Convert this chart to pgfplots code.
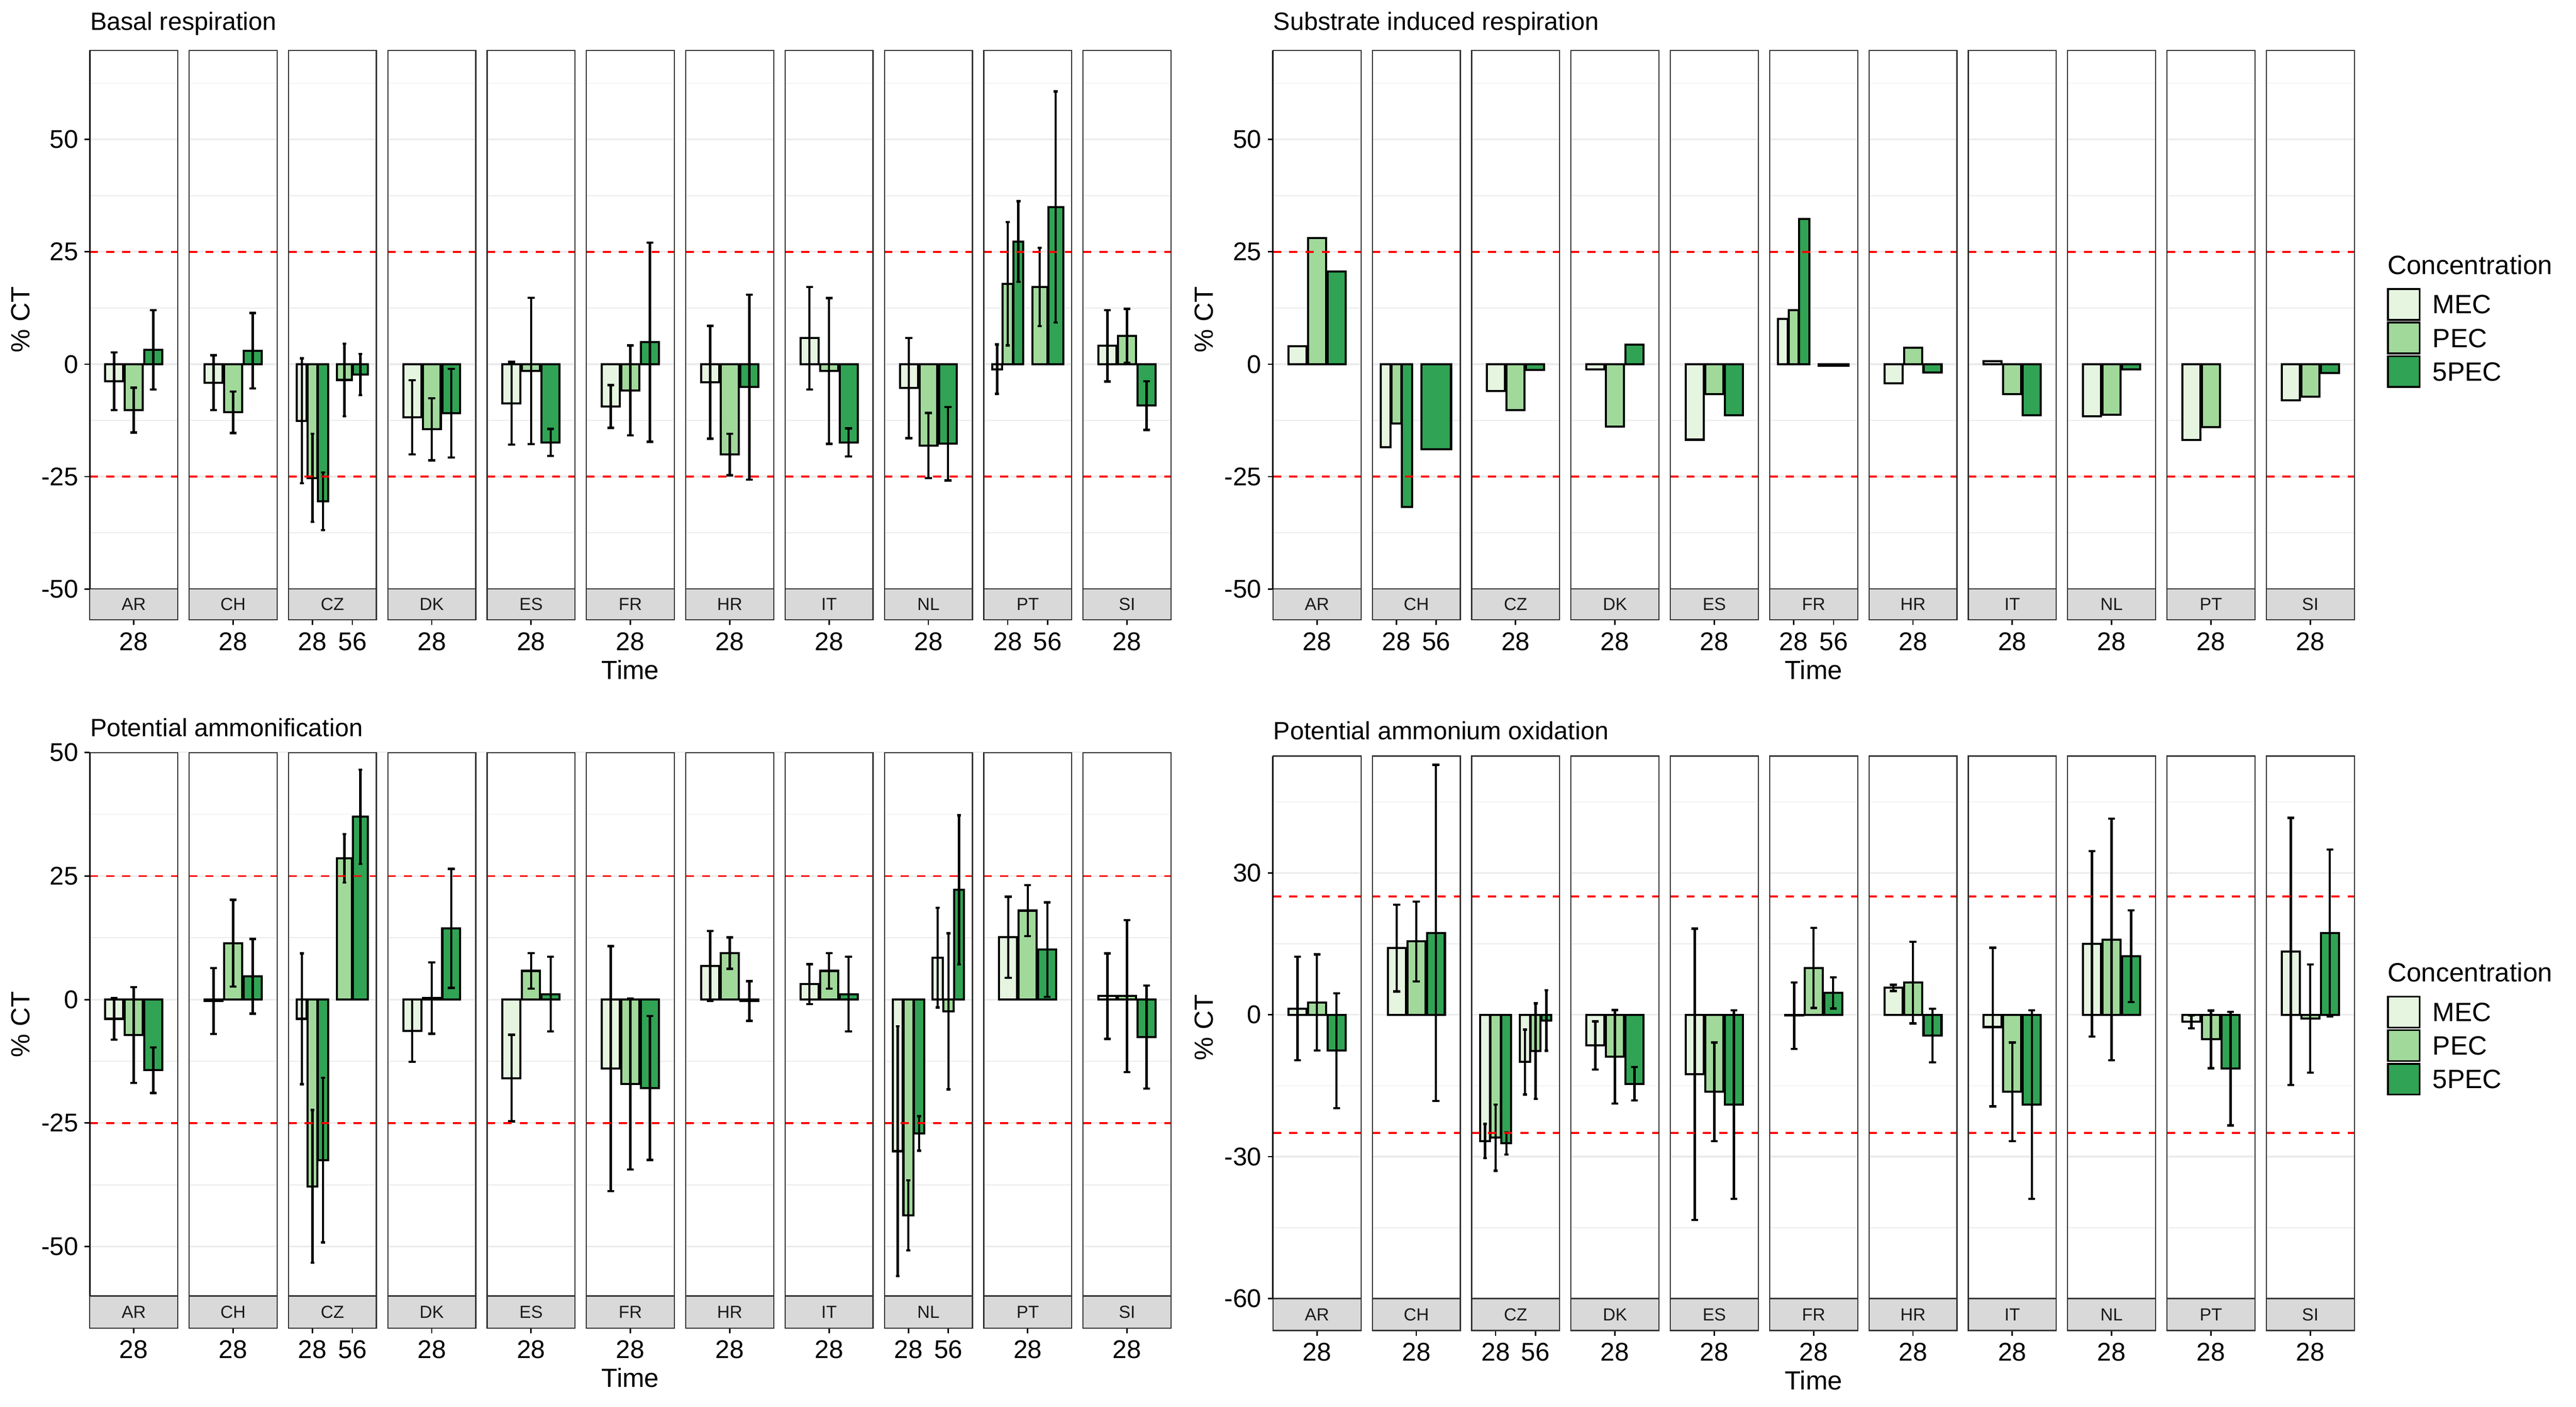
\documentclass[border=0pt]{standalone}
\usepackage{pgfplots}
\pgfplotsset{compat=1.18}
\usepackage{fontspec}
\setmainfont{Liberation Sans}
\definecolor{mecc}{HTML}{E5F5E0}
\definecolor{pecc}{HTML}{A1D99B}
\definecolor{fivec}{HTML}{31A354}
\definecolor{brd}{HTML}{333333}
\definecolor{stripc}{HTML}{D9D9D9}
\definecolor{gridc}{HTML}{EBEBEB}
\definecolor{stxt}{HTML}{1A1A1A}
\newcommand{\tickfont}{\fontsize{12.3bp}{14bp}\selectfont}
\newcommand{\labfont}{\fontsize{12.6bp}{15bp}\selectfont}
\newcommand{\legfont}{\fontsize{12.7bp}{15bp}\selectfont}
\newcommand{\facet}[4]{%
  \draw[red, line width=0.85bp, dash pattern=on 3.9bp off 3.9bp] (axis cs:#1,25) -- (axis cs:#3,25);
  \draw[red, line width=0.85bp, dash pattern=on 3.9bp off 3.9bp] (axis cs:#1,-25) -- (axis cs:#3,-25);
  \draw[brd, line width=0.55bp] (axis cs:#1,\ymn) rectangle (axis cs:#3,\ymx);
  \draw[brd, line width=0.55bp, fill=stripc] (axis cs:#1,\ybt) rectangle (axis cs:#3,\ymn);
  \node[font=\fontsize{8.4bp}{10bp}\selectfont, text=stxt, inner sep=0pt] at (axis cs:#2,\ysc) {#4};
}
\newcommand{\gap}[2]{\fill[white] (axis cs:#1,\ybt) rectangle (axis cs:#2,\ymx);}
\newcommand{\allfacets}{%
  \gap{175.8}{198.5}\gap{374.3}{397}\gap{572.8}{595.5}\gap{771.3}{794}\gap{969.8}{992.5}%
  \gap{1168.3}{1191}\gap{1366.8}{1389.5}\gap{1565.3}{1588}\gap{1763.8}{1786.5}\gap{1962.3}{1985}%
  \facet{0}{87.9}{175.8}{AR}
  \facet{198.5}{286.4}{374.3}{CH}
  \facet{397}{484.9}{572.8}{CZ}
  \facet{595.5}{683.4}{771.3}{DK}
  \facet{794}{881.9}{969.8}{ES}
  \facet{992.5}{1080.4}{1168.3}{FR}
  \facet{1191}{1278.9}{1366.8}{HR}
  \facet{1389.5}{1477.4}{1565.3}{IT}
  \facet{1588}{1675.9}{1763.8}{NL}
  \facet{1786.5}{1874.4}{1962.3}{PT}
  \facet{1985}{2072.9}{2160.8}{SI}
  \draw[black, line width=0.75bp] (axis cs:0,\ymn) -- (axis cs:0,\ymx);
}
\pgfplotsset{
  panel/.style={
    scale only axis, width=518.6bp, xmin=0, xmax=2160.8,
    axis line style={draw=none},
    tick align=outside, major tick length=2.5bp, minor tick length=0pt,
    xtick pos=left, ytick pos=left,
    every tick/.style={black, line width=0.7bp},
    ymajorgrids, yminorgrids,
    major grid style={gridc, line width=0.8bp},
    minor grid style={gridc, line width=0.4bp},
    clip=false,
    xticklabel style={font=\tickfont, inner sep=0pt, yshift=-3.3bp},
    yticklabel style={font=\tickfont, inner sep=0pt, xshift=-2.8bp},
    every axis title/.style={at={(axis description cs:0,1)}, anchor=base west, inner sep=0pt, font=\fontsize{12bp}{14bp}\selectfont},
    every axis x label/.style={at={(axis description cs:0.5,0)}, anchor=center, yshift=-24bp, inner sep=0pt, font=\labfont},
    every axis y label/.style={at={(axis description cs:-0.0638,0.5275)}, anchor=center, rotate=90, inner sep=0pt, font=\labfont},
    xlabel={Time}, ylabel={\% CT},
  },
  leg/.style={
    legend style={at={(axis description cs:1.0304,0.5826)}, anchor=north west, draw=none, fill=none,
      inner sep=0pt, outer sep=0pt, row sep=0.43bp, font=\legfont,
      nodes={inner sep=0pt, text depth=0pt},
      /tikz/every odd column/.append style={column sep=5.9bp}},
    legend cell align=left,
    legend image code/.code={\draw[##1] (0bp,-7.4bp) rectangle (15.1bp,7.4bp);},
  },
  bb/.style={ybar, bar shift=0pt, draw=black, line width=1.0bp, forget plot},
  b1/.style={bb, bar width=36},
  b3/.style={bb, bar width=20},
  b2/.style={bb, bar width=30},
  b0/.style={bb, bar width=59},
  mecS/.style={fill=mecc}, pecS/.style={fill=pecc}, fivS/.style={fill=fivec},
  eb/.style={error bars/y dir=both, error bars/y explicit,
    error bars/error bar style={line width=1.1bp, black, solid},
    error bars/error mark options={rotate=90, mark size=#1, line width=1.1bp, black, solid}},
}
\begin{document}
\begin{tikzpicture}
\useasboundingbox (0,0) rectangle (1235.52bp,674.64bp);

% ---------------- Basal respiration ----------------
\def\ymn{-50}\def\ymx{69.8}\def\ybt{-56.9}\def\ysc{-53.45}
\begin{axis}[panel, at={(43.06bp,377.28bp)}, anchor=south west, height=273.14bp,
  ymin=-56.9, ymax=69.8,
  ytick={-50,-25,0,25,50}, yticklabels={-50,-25,0,25,50},
  minor ytick={-37.5,-12.5,12.5,37.5,62.5},
  xtick={87.9,286.4,444.95,524.85,683.4,881.9,1080.4,1278.9,1477.4,1675.9,1834.45,1914.35,2072.9},
  xticklabels={28,28,28,56,28,28,28,28,28,28,28,56,28},
  title={Basal respiration}, title style={yshift=9.84bp}]
\addplot[b1, mecS, eb=1.65bp] table[x=x, y=y, y error=e] {
x y e
48.83 -3.8 6.4
247.33 -4.1 6.1
644.33 -11.8 8.25
842.83 -8.7 9.2
1041.33 -9.4 4.75
1239.83 -4.0 12.55
1438.33 5.8 11.4
1636.83 -5.3 11.15
2033.83 4.1 7.95
};
\addplot[b1, pecS, eb=1.65bp] table[x=x, y=y, y error=e] {
x y e
87.9 -10.2 5.0
286.4 -10.7 4.6
683.4 -14.5 6.9
881.9 -1.5 16.25
1080.4 -5.8 10.0
1278.9 -20.1 4.6
1477.4 -1.5 16.2
1675.9 -18.1 7.25
2072.9 6.3 6.0
};
\addplot[b1, fivS, eb=1.65bp] table[x=x, y=y, y error=e] {
x y e
126.97 3.2 8.8
325.47 3.0 8.4
722.47 -10.9 9.85
920.97 -17.4 3.0
1119.47 4.9 22.15
1317.97 -5.1 20.6
1516.47 -17.4 3.1
1714.97 -17.7 8.15
2111.97 -9.2 5.4
};
\addplot[b3, mecS, eb=0.95bp] table[x=x, y=y, y error=e] {
x y e
423.65 -12.6 13.9
1813.15 -1.1 5.5
};
\addplot[b3, pecS, eb=0.95bp] table[x=x, y=y, y error=e] {
x y e
444.95 -25.3 9.8
1834.45 17.9 13.7
};
\addplot[b3, fivS, eb=0.95bp] table[x=x, y=y, y error=e] {
x y e
466.25 -30.5 6.4
1855.75 27.3 8.95
};
\addplot[b2, pecS, eb=0.95bp] table[x=x, y=y, y error=e] {
x y e
508.87 -3.5 8.1
1898.37 17.2 8.7
};
\addplot[b2, fivS, eb=0.95bp] table[x=x, y=y, y error=e] {
x y e
540.83 -2.3 4.6
1930.33 35.0 25.7
};
\allfacets
\end{axis}

% ---------------- Substrate induced respiration ----------------
\def\ymn{-50}\def\ymx{69.8}\def\ybt{-56.9}\def\ysc{-53.45}
\begin{axis}[panel, leg, at={(610.56bp,377.28bp)}, anchor=south west, height=273.14bp,
  ymin=-56.9, ymax=69.8,
  ytick={-50,-25,0,25,50}, yticklabels={-50,-25,0,25,50},
  minor ytick={-37.5,-12.5,12.5,37.5,62.5},
  xtick={87.9,246.45,326.35,484.9,683.4,881.9,1040.45,1120.35,1278.9,1477.4,1675.9,1874.4,2072.9},
  xticklabels={28,28,56,28,28,28,28,56,28,28,28,28,28},
  title={Substrate induced respiration}, title style={yshift=9.84bp}]
\addplot[b1, mecS] table[x=x, y=y] {
x y
48.83 4.0
445.83 -6.0
644.33 -1.2
842.83 -16.8
1239.83 -4.3
1438.33 0.7
1636.83 -11.6
1835.33 -16.9
2033.83 -8.0
};
\addplot[b1, pecS] table[x=x, y=y] {
x y
87.9 28.1
484.9 -10.2
683.4 -13.9
881.9 -6.6
1278.9 3.7
1477.4 -6.6
1675.9 -11.2
1874.4 -14.0
2072.9 -7.2
};
\addplot[b1, fivS] table[x=x, y=y] {
x y
126.97 20.6
523.97 -1.3
722.47 4.4
920.97 -11.4
1317.97 -1.8
1516.47 -11.4
1714.97 -1.1
2111.97 -1.9
};
\addplot[b3, mecS] table[x=x, y=y] {
x y
225.15 -18.5
1019.15 10.1
};
\addplot[b3, pecS] table[x=x, y=y] {
x y
246.45 -13.2
1040.45 12.0
};
\addplot[b3, fivS] table[x=x, y=y] {
x y
267.75 -31.8
1061.75 32.3
};
\addplot[b0, fivS] table[x=x, y=y] {
x y
326.35 -18.9
1120.35 -0.3
};
\allfacets
\addlegendimage{fill=mecc, draw=black, line width=0.85bp}\addlegendentry{MEC}
\addlegendimage{fill=pecc, draw=black, line width=0.85bp}\addlegendentry{PEC}
\addlegendimage{fill=fivec, draw=black, line width=0.85bp}\addlegendentry{5PEC}
\node[anchor=base west, inner sep=0pt, font=\legfont] at (axis description cs:1.0304,0.6072) {Concentration};
\end{axis}

% ---------------- Potential ammonification ----------------
\def\ymn{-60}\def\ymx{50}\def\ybt{-66.48}\def\ysc{-63.24}
\begin{axis}[panel, at={(43.06bp,37.70bp)}, anchor=south west, height=276bp,
  ymin=-66.48, ymax=50,
  ytick={-50,-25,0,25,50}, yticklabels={-50,-25,0,25,50},
  minor ytick={-37.5,-12.5,12.5,37.5},
  xtick={87.9,286.4,444.95,524.85,683.4,881.9,1080.4,1278.9,1477.4,1635.95,1715.85,1874.4,2072.9},
  xticklabels={28,28,28,56,28,28,28,28,28,28,56,28,28},
  title={Potential ammonification}, title style={yshift=7.7bp}]
\addplot[b1, mecS, eb=1.65bp] table[x=x, y=y, y error=e] {
x y e
48.83 -3.9 4.2
247.33 -0.3 6.7
644.33 -6.3 6.3
842.83 -15.9 8.75
1041.33 -14.0 24.8
1239.83 6.8 7.1
1438.33 3.1 4.05
1835.33 12.6 8.2
2033.83 0.7 8.65
};
\addplot[b1, pecS, eb=1.65bp] table[x=x, y=y, y error=e] {
x y e
87.9 -7.2 9.7
286.4 11.4 8.8
683.4 0.3 7.2
881.9 5.8 3.6
1080.4 -17.1 17.3
1278.9 9.4 3.2
1477.4 5.8 3.6
1874.4 18.0 5.15
2072.9 0.7 15.4
};
\addplot[b1, fivS, eb=1.65bp] table[x=x, y=y, y error=e] {
x y e
126.97 -14.3 4.6
325.47 4.7 7.55
722.47 14.4 12.05
920.97 1.1 7.55
1119.47 -17.9 14.55
1317.97 -0.3 4.0
1516.47 1.1 7.55
1913.47 10.1 9.55
2111.97 -7.6 10.45
};
\addplot[b3, mecS, eb=0.95bp] table[x=x, y=y, y error=e] {
x y e
423.65 -3.9 13.25
1614.65 -30.7 25.3
1694.55 8.5 10.1
};
\addplot[b3, pecS, eb=0.95bp] table[x=x, y=y, y error=e] {
x y e
444.95 -37.8 15.45
1635.95 -43.7 7.1
1715.85 -2.4 15.8
};
\addplot[b3, fivS, eb=0.95bp] table[x=x, y=y, y error=e] {
x y e
466.25 -32.5 16.65
1657.25 -27.1 3.5
1737.15 22.2 15.1
};
\addplot[b2, pecS, eb=0.95bp] table[x=x, y=y, y error=e] {
x y e
508.87 28.6 4.9
};
\addplot[b2, fivS, eb=0.95bp] table[x=x, y=y, y error=e] {
x y e
540.83 37.0 9.55
};
\allfacets
\end{axis}

% ---------------- Potential ammonium oxidation ----------------
\def\ymn{-60}\def\ymx{54.7}\def\ybt{-66.77}\def\ysc{-63.385}
\begin{axis}[panel, leg, at={(610.56bp,36.48bp)}, anchor=south west, height=275.52bp,
  ymin=-66.77, ymax=54.7,
  ytick={-60,-30,0,30}, yticklabels={-60,-30,0,30},
  minor ytick={-45,-15,15,45},
  xtick={87.9,286.4,444.95,524.85,683.4,881.9,1080.4,1278.9,1477.4,1675.9,1874.4,2072.9},
  xticklabels={28,28,28,56,28,28,28,28,28,28,28,28},
  title={Potential ammonium oxidation}, title style={yshift=7.9bp}]
\addplot[b1, mecS, eb=1.65bp] table[x=x, y=y, y error=e] {
x y e
48.83 1.3 10.95
247.33 14.1 9.2
644.33 -6.5 5.1
842.83 -12.6 30.8
1041.33 -0.2 7.0
1239.83 5.7 0.65
1438.33 -2.6 16.8
1636.83 15.0 19.6
1835.33 -1.5 1.35
2033.83 13.4 28.25
};
\addplot[b1, pecS, eb=1.65bp] table[x=x, y=y, y error=e] {
x y e
87.9 2.6 10.15
286.4 15.5 8.45
683.4 -8.9 9.9
881.9 -16.3 10.45
1080.4 9.9 8.45
1278.9 6.8 8.65
1477.4 -16.3 10.45
1675.9 15.9 25.55
1874.4 -5.2 6.1
2072.9 -0.8 11.45
};
\addplot[b1, fivS, eb=1.65bp] table[x=x, y=y, y error=e] {
x y e
126.97 -7.6 12.15
325.47 17.3 35.55
722.47 -14.6 3.55
920.97 -19.0 19.95
1119.47 4.6 3.3
1317.97 -4.4 5.65
1516.47 -19.0 19.95
1714.97 12.4 9.7
1913.47 -11.4 12.0
2111.97 17.3 17.65
};
\addplot[b3, mecS, eb=0.95bp] table[x=x, y=y, y error=e] {
x y e
423.65 -26.7 3.6
503.55 -10.0 6.85
};
\addplot[b3, pecS, eb=0.95bp] table[x=x, y=y, y error=e] {
x y e
444.95 -26.0 7.0
524.85 -7.7 10.1
};
\addplot[b3, fivS, eb=0.95bp] table[x=x, y=y, y error=e] {
x y e
466.25 -27.2 2.35
546.15 -1.2 6.4
};
\allfacets
\addlegendimage{fill=mecc, draw=black, line width=0.85bp}\addlegendentry{MEC}
\addlegendimage{fill=pecc, draw=black, line width=0.85bp}\addlegendentry{PEC}
\addlegendimage{fill=fivec, draw=black, line width=0.85bp}\addlegendentry{5PEC}
\node[anchor=base west, inner sep=0pt, font=\legfont] at (axis description cs:1.0304,0.6071) {Concentration};
\end{axis}
\end{tikzpicture}
\end{document}
